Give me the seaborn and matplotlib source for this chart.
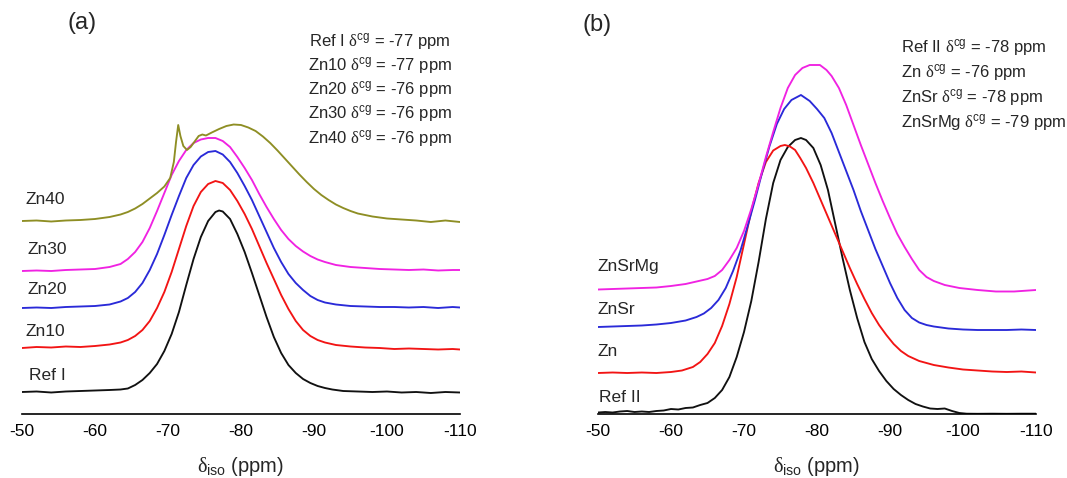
import matplotlib
matplotlib.use("Agg")
import matplotlib.pyplot as plt
from matplotlib.ticker import MultipleLocator
import pandas as pd
import seaborn as sns

# ---------------- panel (a): Ref I and Zn-doped glasses ----------------
REF_I_PPM = [-50, -52, -54, -56, -58, -60, -62, -63.5, -64.5, -65.5, -66.5, -67.5,
             -68.5, -69.5, -70.5, -71.5, -72.5, -73.5, -74.5, -75.5, -76.5, -77,
             -77.5, -78.5, -79.5, -80.5, -81.5, -82.5, -83.5, -84.5, -85.5, -86.5,
             -87.5, -88.5, -89.5, -90.5, -91.5, -92.5, -94, -96, -98, -100, -102,
             -104, -106, -108, -110]
REF_I_INT = [22, 22.5, 21.5, 22.5, 23, 23.5, 24, 24.5, 25.5, 29, 34, 41,
             50, 63, 80, 102, 129, 155, 177, 193, 202, 203.5,
             202.5, 195, 180, 162, 141, 119, 97, 77, 61, 49,
             41, 35, 31, 28, 26, 24.5, 23, 22.5, 22, 22.5, 21.5,
             22, 21, 22, 21.5]

ZN_GRID_PPM = [-50, -52, -54, -56, -58, -60, -62, -63.5, -64.5, -65.5, -66.5, -67.5,
               -68.5, -69.5, -70.5, -71.5, -72.5, -73.5, -74.5, -75.5, -76.5, -77.5,
               -78.5, -79.5, -80.5, -81.5, -82.5, -83.5, -84.5, -85.5, -86.5, -87.5,
               -88.5, -89.5, -90.5, -91.5, -93, -95, -97, -99, -101, -103, -105,
               -107, -109, -110]
ZN10_INT = [66, 67, 66.5, 67.5, 67, 68, 69.5, 71.5, 74, 78, 84, 93,
            106, 122, 142, 165, 188, 208, 222, 230, 233, 231,
            224, 213, 200, 185, 168, 151, 135, 119, 105, 93,
            84, 78, 74, 71.5, 69, 67.5, 66.5, 66, 65, 65.5, 65,
            64.5, 65, 64.5]
ZN20_INT = [106, 106.5, 106, 107, 107.5, 108, 109.5, 112.5, 116, 122, 131, 144,
            160, 179, 199, 218, 236, 249, 257.5, 262, 263, 259.5,
            252, 241, 228, 214, 198, 182, 166, 152, 140, 131,
            124, 118, 114, 111.5, 109.5, 108, 107.5, 107, 107, 106.5, 107,
            106, 107, 106.5]
ZN30_INT = [143, 143.5, 143, 144, 144.5, 145, 147, 150, 155, 162, 172, 186,
            203, 221, 239, 253, 264, 271, 274.5, 276, 276, 273,
            267, 257, 246, 234, 220, 207, 195, 184, 175, 168,
            162.5, 158, 154.5, 152, 149, 147, 146, 145, 144.5, 144, 144.5,
            143.5, 144, 144]

ZN40_PPM = [-50, -52, -54, -56, -58, -60, -62, -63.5, -64.5, -65.5, -66.5, -67.5,
            -68.5, -69.5, -70.3, -70.8, -71.1, -71.4, -71.7, -72.1, -72.6, -73.1,
            -73.6, -74.2, -74.7, -75.2, -76, -77, -78, -79, -80, -81, -82, -83,
            -84, -85, -86, -87, -88, -89, -90, -91, -92, -93, -94, -95, -96, -98,
            -100, -102, -104, -106, -108, -110]
ZN40_INT = [193, 193.5, 192.5, 193.5, 194, 195, 197, 199.5, 202, 205.5, 210, 215.5,
            221, 227.5, 236, 252, 272, 289, 278, 268, 264, 267,
            272, 278, 279.5, 278.5, 281.5, 285, 288, 289.5, 289, 286.5, 283, 277.5,
            271, 263.5, 255.5, 247.5, 239.5, 232, 225, 219, 214, 209.5, 206, 203, 200.5, 197.5,
            195.5, 194.5, 193.5, 192, 193.5, 192]

SAMPLES_A = ["Ref I", "Zn10", "Zn20", "Zn30", "Zn40"]
COLORS_A = ["#111111", "#f21414", "#2a2ad8", "#f022e2", "#8e8e24"]
CG_A = [-77, -77, -76, -76, -76]

# ---------------- panel (b): Ref II and co-doped glasses ----------------
REF_II_PPM = [-50, -51, -52, -53, -54, -55, -56, -57, -58, -59, -60, -61, -62, -63,
              -64, -65, -66, -67, -68, -69, -70, -71, -72, -73, -74, -75, -76, -77,
              -77.8, -78.5, -79.5, -80.5, -81.5, -82.5, -83.5, -84.5, -85.5, -86.5,
              -87.5, -88.5, -89.5, -90.5, -91.5, -92.5, -93.5, -94.5, -95.5, -96.5,
              -97.5, -98.5, -99.5, -100.5, -102, -104, -106, -108, -110]
REF_II_INT = [1.5, 2, 1.5, 2.5, 3, 2, 2.5, 2, 3, 3.5, 5, 4.5, 6, 6.5,
              9, 11, 16, 24, 37, 57, 82, 113, 152, 195, 231, 254, 267, 274,
              276, 274, 266, 249, 224, 190, 156, 124, 96, 72,
              55, 43, 33, 25, 19, 14, 10, 7.5, 5.5, 5,
              5.5, 3, 1, 0.3, 0.2, 0.3, 0.2, 0.3, 0.3]

ZN_PPM = [-50, -52, -54, -56, -58, -60, -61.5, -63, -64, -65, -66, -67, -68, -69,
          -70, -71, -72, -73, -74, -75, -75.6, -76.3, -77, -77.7, -78.5, -79.5,
          -80.5, -81.5, -82.5, -83.5, -84.5, -85.5, -86.5, -87.5, -88.5, -89.5,
          -90.5, -91.5, -92.5, -94, -96, -98, -100, -102, -104, -106, -108, -110]
ZN_INT = [41, 41.5, 41, 41.5, 41, 42, 43.5, 47, 52, 60, 71, 88, 110, 137,
          170, 203, 231, 252, 263.5, 268, 269, 267.5, 264, 256, 246, 231,
          214, 197, 180, 163, 146, 130, 115, 101, 89, 79,
          70, 63, 58, 53, 49, 46.5, 44.5, 43.5, 42.5, 42, 42.5, 41.5]

ZNSR_PPM = [-50, -52, -54, -56, -58, -60, -62, -63.5, -64.5, -65.5, -66.5, -67.5,
            -68.5, -69.5, -70.5, -71.5, -72.5, -73.5, -74.5, -75.5, -76.5, -77.8,
            -79, -80, -81, -82, -83, -84, -85, -86, -87, -88, -89, -90, -91, -92,
            -93, -94, -95, -96, -98, -100, -102, -104, -106, -108, -110]
ZNSR_INT = [87, 87.5, 88, 88.5, 89.5, 91, 93.5, 97, 100.5, 106, 114, 126,
            143, 163, 188, 214, 242, 268, 290, 305, 314, 319,
            313, 305, 296, 281, 262, 243, 224, 203, 184, 165, 148, 131, 116, 104,
            96, 91.5, 89, 87.5, 85.5, 84.5, 84, 84, 84, 84.5, 84]

ZNSRMG_PPM = [-50, -52, -54, -56, -58, -60, -62, -63.5, -65, -66, -67, -68, -69, -70,
              -71, -72, -73, -74, -75, -76, -77, -78, -79, -80.4, -81.3, -82, -83,
              -84, -85, -86, -87, -88, -89, -90, -91, -92, -93, -94, -95, -96,
              -97.5, -99.5, -102, -104.5, -107, -110]
ZNSRMG_INT = [124.5, 125, 125.5, 126, 126.5, 128, 130, 132.5, 135, 138, 144, 154, 166, 183,
              205, 230, 257, 282, 306, 326, 339, 346, 349, 349, 344, 338, 326,
              309, 289, 269, 250, 231, 213, 196, 180, 167, 155, 144, 137, 133,
              129, 126, 124, 122.5, 122.5, 124]

SAMPLES_B = ["Ref II", "Zn", "ZnSr", "ZnSrMg"]
COLORS_B = ["#111111", "#f21414", "#2a2ad8", "#f022e2"]
CG_B = [-78, -76, -78, -79]


def long_table(pairs):
    frames = [pd.DataFrame({"ppm": p, "intensity": v, "sample": name})
              for name, p, v in pairs]
    return pd.concat(frames, ignore_index=True)


df_a = long_table([("Ref I", REF_I_PPM, REF_I_INT),
                   ("Zn10", ZN_GRID_PPM, ZN10_INT),
                   ("Zn20", ZN_GRID_PPM, ZN20_INT),
                   ("Zn30", ZN_GRID_PPM, ZN30_INT),
                   ("Zn40", ZN40_PPM, ZN40_INT)])
df_b = long_table([("Ref II", REF_II_PPM, REF_II_INT),
                   ("Zn", ZN_PPM, ZN_INT),
                   ("ZnSr", ZNSR_PPM, ZNSR_INT),
                   ("ZnSrMg", ZNSRMG_PPM, ZNSRMG_INT)])

sns.set_style("white")
plt.rcParams["font.family"] = ["Liberation Sans", "DejaVu Sans"]
plt.rcParams["mathtext.fontset"] = "custom"
plt.rcParams["mathtext.rm"] = "Liberation Sans"
plt.rcParams["mathtext.it"] = "Liberation Sans:italic"
plt.rcParams["mathtext.sf"] = "Liberation Serif"
plt.rcParams["axes.unicode_minus"] = False

W, H = 1067, 478
fig = plt.figure(figsize=(W / 100, H / 100), dpi=100)
fig.patch.set_facecolor("white")


def fpos(x, y):
    """pixel position -> figure fraction"""
    return x / W, 1 - y / H


AX_BOTTOM = 414
ax_a = fig.add_axes([22 / W, (H - AX_BOTTOM) / H, 438 / W, AX_BOTTOM / H])
ax_b = fig.add_axes([598 / W, (H - AX_BOTTOM) / H, 438 / W, AX_BOTTOM / H])

for ax, df, names, cols in [(ax_a, df_a, SAMPLES_A, COLORS_A),
                            (ax_b, df_b, SAMPLES_B, COLORS_B)]:
    sns.lineplot(data=df, x="ppm", y="intensity", hue="sample", hue_order=names,
                 palette=dict(zip(names, cols)), estimator=None, sort=False,
                 legend=False, linewidth=1.35, ax=ax)
    ax.set_xlim(-50, -110)
    ax.set_ylim(0, AX_BOTTOM)
    ax.set_facecolor("none")
    ax.xaxis.set_major_locator(MultipleLocator(10))
    ax.xaxis.set_minor_locator(MultipleLocator(5))
    ax.tick_params(axis="x", which="major", direction="in", length=4.5, width=1.1,
                   labelsize=12.5, pad=7, colors="black")
    ax.tick_params(axis="x", which="minor", direction="in", length=2.5, width=1.1,
                   colors="black")
    ax.set_yticks([])
    ax.set_ylabel("")
    for side in ["left", "top", "right"]:
        ax.spines[side].set_visible(False)
    ax.spines["bottom"].set_linewidth(1.2)
    ax.spines["bottom"].set_color("black")
    ax.set_xlabel(r"$\mathsf{\delta}_{\mathrm{iso}}$ (ppm)", fontsize=14.5)
    ax.xaxis.set_label_coords(0.5, -0.10)

# panel letters
fig.text(*fpos(82, 23), "(a)", fontsize=17, ha="center", va="center")
fig.text(*fpos(597, 25), "(b)", fontsize=17, ha="center", va="center")

# sample names beside each trace
for name, (x, y) in zip(SAMPLES_A, [(29, 376), (26, 332), (27, 290), (27, 250), (26, 199)]):
    fig.text(*fpos(x, y), name, fontsize=12.5, ha="left", va="center")
for name, (x, y) in zip(SAMPLES_B, [(599, 397), (598, 352), (598, 310), (598, 267)]):
    fig.text(*fpos(x, y), name, fontsize=12.5, ha="left", va="center")


# centre-of-gravity shifts
def cg_note(name, value):
    return name + r" $\mathsf{\delta}^{\mathrm{cg}}$" + f" = {value} ppm"


for i, (name, v) in enumerate(zip(SAMPLES_A, CG_A)):
    fig.text(*fpos(380, 41 + 24.3 * i), cg_note(name, v), fontsize=12,
             ha="center", va="center")
for i, (name, v) in enumerate(zip(SAMPLES_B, CG_B)):
    fig.text(*fpos(901, 47 + 25.3 * i), cg_note(name, v), fontsize=12,
             ha="left", va="center")

fig.savefig("out.png", dpi=100, facecolor="white")
